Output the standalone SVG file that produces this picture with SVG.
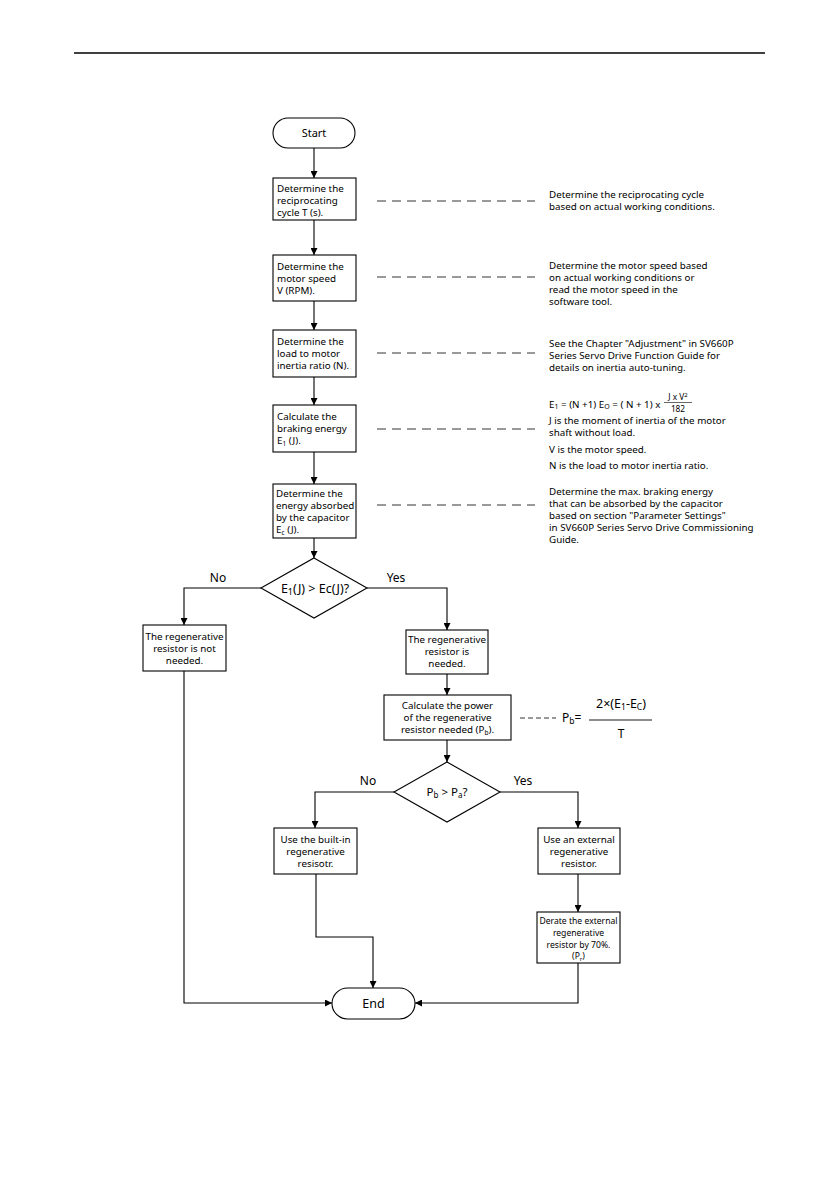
<svg xmlns="http://www.w3.org/2000/svg" width="839" height="1191" viewBox="0 0 839 1191">
<defs>
<marker id="ah" viewBox="0 0 10 10" refX="10" refY="5" markerWidth="7" markerHeight="7" markerUnits="userSpaceOnUse" orient="auto">
<path d="M0,0 L10,5 L0,10 z" fill="#000"/>
</marker>
<style>
.b{fill:#fff;stroke:#000;stroke-width:1.1}
.c{fill:none;stroke:#000;stroke-width:1.1;marker-end:url(#ah)}
.d{fill:none;stroke:#333;stroke-width:1;stroke-dasharray:9,6}
.t{font-family:"Noto Sans","DejaVu Sans",sans-serif;font-size:9.8px;fill:#000}
.m{text-anchor:middle}
.r{font-family:"Noto Sans","DejaVu Sans",sans-serif;font-size:9.8px;fill:#000}
.l{font-family:"Noto Sans","DejaVu Sans",sans-serif;font-size:12px;fill:#000;text-anchor:middle}
</style>
</defs>
<rect width="839" height="1191" fill="#fff"/>
<line x1="74" y1="53" x2="765" y2="53" stroke="#000" stroke-width="1.3"/>

<g id="connectors">
<path class="c" d="M314,148 V178"/>
<path class="c" d="M314,220 V255"/>
<path class="c" d="M314,301 V330"/>
<path class="c" d="M314,377 V405"/>
<path class="c" d="M314,452 V484"/>
<path class="c" d="M314,538 V558"/>
<path class="c" d="M261,588 H184 V625"/>
<path class="c" d="M367,588 H447 V630"/>
<path class="c" d="M447,674 V695"/>
<path class="c" d="M447,740 V762"/>
<path class="c" d="M394,792 H315 V828"/>
<path class="c" d="M500,792 H578 V828"/>
<path class="c" d="M578,874 V912"/>
<path class="c" d="M316,874 V937 H373 V988"/>
<path class="c" d="M184,671 V1003 H332"/>
<path class="c" d="M578,963 V1003 H415"/>
<line class="d" x1="377" y1="201" x2="535" y2="201"/>
<line class="d" x1="377" y1="277" x2="535" y2="277"/>
<line class="d" x1="377" y1="353" x2="535" y2="353"/>
<line class="d" x1="377" y1="429" x2="535" y2="429"/>
<line class="d" x1="377" y1="505" x2="535" y2="505"/>
<line x1="520" y1="718" x2="556" y2="718" stroke="#333" stroke-width="1" stroke-dasharray="5,3"/>
</g>

<g id="start">
<rect class="b" x="273" y="118" width="82" height="30" rx="15"/>
<text class="t m" x="314" y="137" style="font-size:11px">Start</text>
</g>

<g id="box1">
<rect class="b" x="273" y="178" width="83" height="42"/>
<text class="t" x="277" y="192">Determine the</text>
<text class="t" x="277" y="204">reciprocating</text>
<text class="t" x="277" y="216">cycle T (s).</text>
</g>

<g id="box2">
<rect class="b" x="273" y="255" width="83" height="46"/>
<text class="t" x="277" y="270">Determine the</text>
<text class="t" x="277" y="282">motor speed</text>
<text class="t" x="277" y="294">V (RPM).</text>
</g>

<g id="box3">
<rect class="b" x="273" y="330" width="83" height="47"/>
<text class="t" x="277" y="345">Determine the</text>
<text class="t" x="277" y="357">load to motor</text>
<text class="t" x="277" y="369">inertia ratio (N).</text>
</g>

<g id="box4">
<rect class="b" x="273" y="405" width="83" height="47"/>
<text class="t" x="277" y="420">Calculate the</text>
<text class="t" x="277" y="432">braking energy</text>
<text class="t" x="277" y="444">E<tspan font-size="6.5" dy="2">1</tspan><tspan dy="-2"> (J).</tspan></text>
</g>

<g id="box5">
<rect class="b" x="273" y="484" width="83" height="54"/>
<text class="t" x="276" y="497">Determine the</text>
<text class="t" x="276" y="509">energy absorbed</text>
<text class="t" x="276" y="521">by the capacitor</text>
<text class="t" x="276" y="533">E<tspan font-size="6.5" dy="2">c</tspan><tspan dy="-2"> (J).</tspan></text>
</g>

<g id="note1">
<text class="r" x="549" y="198">Determine the reciprocating cycle</text>
<text class="r" x="549" y="210">based on actual working conditions.</text>
</g>
<g id="note2">
<text class="r" x="549" y="269">Determine the motor speed based</text>
<text class="r" x="549" y="281">on actual working conditions or</text>
<text class="r" x="549" y="293">read the motor speed in the</text>
<text class="r" x="549" y="305">software tool.</text>
</g>
<g id="note3">
<text class="r" x="549" y="347">See the Chapter "Adjustment" in SV660P</text>
<text class="r" x="549" y="359">Series Servo Drive Function Guide for</text>
<text class="r" x="549" y="371">details on inertia auto-tuning.</text>
</g>
<g id="note4">
<text class="r" x="549" y="408">E<tspan font-size="7" dy="1">1</tspan><tspan dy="-1"> = (N +1) E</tspan><tspan font-size="7" dy="1">O</tspan><tspan dy="-1"> = ( N + 1) x</tspan></text>
<text class="r m" x="678" y="400" style="font-size:8.3px">J x V<tspan font-size="6" dy="-3">2</tspan></text>
<line x1="664" y1="402.5" x2="692" y2="402.5" stroke="#000" stroke-width="0.6"/>
<text class="r m" x="678" y="411.5" style="font-size:8.3px">182</text>
<text class="r" x="549" y="424">J is the moment of inertia of the motor</text>
<text class="r" x="549" y="436">shaft without load.</text>
<text class="r" x="549" y="453">V is the motor speed.</text>
<text class="r" x="549" y="469">N is the load to motor inertia ratio.</text>
</g>
<g id="note5">
<text class="r" x="549" y="495">Determine the max. braking energy</text>
<text class="r" x="549" y="507">that can be absorbed by the capacitor</text>
<text class="r" x="549" y="519">based on section "Parameter Settings"</text>
<text class="r" x="549" y="531">in SV660P Series Servo Drive Commissioning</text>
<text class="r" x="549" y="543">Guide.</text>
</g>

<g id="decision1">
<polygon class="b" points="314,558 367,588 314,618 261,588"/>
<text class="l" x="315" y="592.5" style="font-size:12.5px">E<tspan font-size="9" dy="2">1</tspan><tspan dy="-2">(J) &gt; Ec(J)?</tspan></text>
<text class="l" x="218" y="582">No</text>
<text class="l" x="396" y="582">Yes</text>
</g>

<g id="notneeded">
<rect class="b" x="143" y="625" width="83" height="46"/>
<text class="t m" x="184.5" y="640">The regenerative</text>
<text class="t m" x="184.5" y="652">resistor is not</text>
<text class="t m" x="184.5" y="664">needed.</text>
</g>

<g id="needed">
<rect class="b" x="406" y="630" width="82" height="44"/>
<text class="t m" x="447" y="643">The regenerative</text>
<text class="t m" x="447" y="655">resistor is</text>
<text class="t m" x="447" y="667">needed.</text>
</g>

<g id="calcpower">
<rect class="b" x="384" y="695" width="127" height="45"/>
<text class="t m" x="447.5" y="709">Calculate the power</text>
<text class="t m" x="447.5" y="721">of the regenerative</text>
<text class="t m" x="447.5" y="733">resistor needed (P<tspan font-size="6.5" dy="2">b</tspan><tspan dy="-2">).</tspan></text>
</g>

<g id="formula">
<text class="t" x="562" y="722" style="font-size:12px">P<tspan font-size="8.5" dy="2">b</tspan><tspan dy="-2">=</tspan></text>
<text class="t m" x="621" y="708" style="font-size:12.5px">2×(E<tspan font-size="8.5" dy="2">1</tspan><tspan dy="-2">-E</tspan><tspan font-size="8.5" dy="2">C</tspan><tspan dy="-2">)</tspan></text>
<line x1="589" y1="720" x2="652" y2="720" stroke="#000" stroke-width="0.9"/>
<text class="t m" x="621" y="738" style="font-size:12px">T</text>
</g>

<g id="decision2">
<polygon class="b" points="447,762 500,792 447,822 394,792"/>
<text class="l" x="447" y="796" style="font-size:11.5px">P<tspan font-size="8" dy="2">b</tspan><tspan dy="-2"> &gt; P</tspan><tspan font-size="8" dy="2">a</tspan><tspan dy="-2">?</tspan></text>
<text class="l" x="368" y="785">No</text>
<text class="l" x="523" y="785">Yes</text>
</g>

<g id="builtin">
<rect class="b" x="274" y="828" width="83" height="46"/>
<text class="t m" x="315.5" y="843">Use the built-in</text>
<text class="t m" x="315.5" y="855">regenerative</text>
<text class="t m" x="315.5" y="867">resisotr.</text>
</g>

<g id="external">
<rect class="b" x="538" y="828" width="82" height="46"/>
<text class="t m" x="579" y="843">Use an external</text>
<text class="t m" x="579" y="855">regenerative</text>
<text class="t m" x="579" y="867">resistor.</text>
</g>

<g id="derate">
<rect class="b" x="537" y="912" width="83" height="51"/>
<text class="t m" x="578.5" y="924" style="font-size:8.6px">Derate the external</text>
<text class="t m" x="578.5" y="936" style="font-size:8.6px">regenerative</text>
<text class="t m" x="578.5" y="948" style="font-size:8.6px">resistor by 70%.</text>
<text class="t m" x="578.5" y="959" style="font-size:8.6px">(P<tspan font-size="6" dy="2">r</tspan><tspan dy="-2">)</tspan></text>
</g>

<g id="end">
<rect class="b" x="332" y="988" width="83" height="31" rx="15.5"/>
<text class="t m" x="373.5" y="1008" style="font-size:12.5px">End</text>
</g>
</svg>
